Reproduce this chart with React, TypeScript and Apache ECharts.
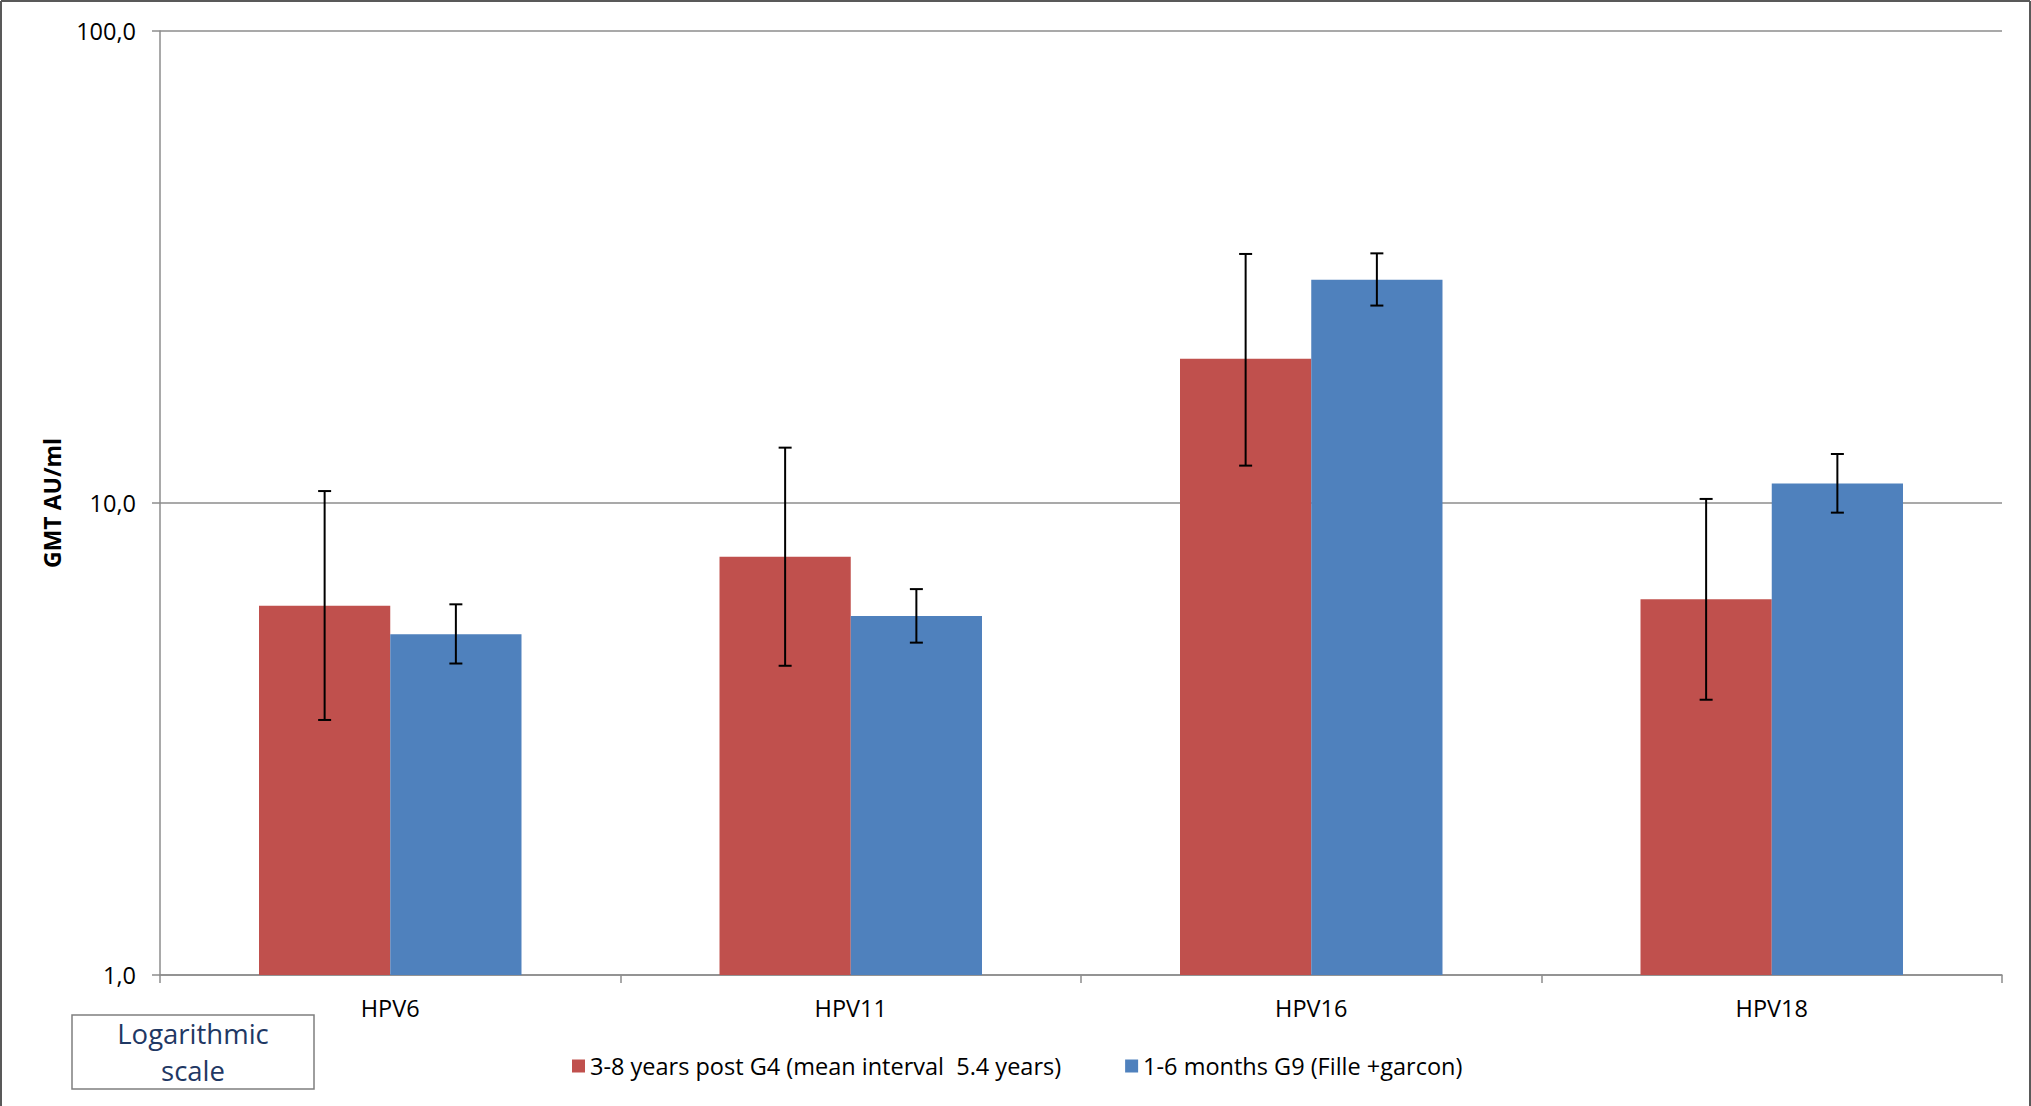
import React, { useEffect, useRef } from "react";
import * as echarts from "echarts";

// HPV types on the category axis
const categories = ["HPV6", "HPV11", "HPV16", "HPV18"];

// Series names
const seriesNames = [
  "3-8 years post G4 (mean interval  5.4 years)",
  "1-6 months G9 (Fille +garcon)",
];

// Geometric mean titres (AU/ml)
const gmtPostG4 = [6.06, 7.69, 20.2, 6.25];
const gmtG9 = [5.27, 5.76, 29.7, 11.0];

// 95% confidence limits
const lowPostG4 = [3.47, 4.52, 12.0, 3.83];
const highPostG4 = [10.6, 13.1, 33.7, 10.2];
const lowG9 = [4.57, 5.06, 26.2, 9.54];
const highG9 = [6.1, 6.57, 33.8, 12.7];

// Log-axis range
const yMin = 1;
const yMax = 100;

const RED = "#C0504D";
const BLUE = "#4F81BD";
const GRID_GREY = "#8C8C8C";
const FONT = "'Open Sans', 'Noto Sans', sans-serif";
const CATEGORY_GAP = 0.43;

function errorSeries(name: string, low: number[], high: number[], side: number) {
  return {
    type: "custom",
    name: name + " CI",
    silent: true,
    z: 10,
    data: categories.map((_, i) => [i, low[i], high[i]]),
    encode: { x: 0, y: [1, 2] },
    renderItem: (params: any, api: any) => {
      const idx = api.value(0);
      const lo = api.coord([idx, api.value(1)]);
      const hi = api.coord([idx, api.value(2)]);
      const band = api.size([1, 0])[0];
      const barW = (band * (1 - CATEGORY_GAP)) / 2;
      const x = lo[0] + (side * barW) / 2;
      const cap = 6.5;
      const style = { stroke: "#000", lineWidth: 2 };
      return {
        type: "group",
        children: [
          { type: "line", shape: { x1: x, y1: lo[1], x2: x, y2: hi[1] }, style },
          { type: "line", shape: { x1: x - cap, y1: hi[1], x2: x + cap, y2: hi[1] }, style },
          { type: "line", shape: { x1: x - cap, y1: lo[1], x2: x + cap, y2: lo[1] }, style },
        ],
      };
    },
  };
}

export default function App() {
  const ref = useRef<HTMLDivElement>(null);

  useEffect(() => {
    if (!ref.current) return;
    const chart = echarts.init(ref.current, null, { renderer: "svg" });
    chart.setOption({
      animation: false,
      backgroundColor: "#fff",
      grid: { left: 160, top: 31, right: 29, bottom: 131, containLabel: false },
      legend: {
        data: seriesNames.map((n) => ({ name: n, icon: "rect" })),
        left: 567,
        top: 1049,
        itemWidth: 13,
        itemHeight: 13,
        itemGap: 64,
        textStyle: { fontFamily: FONT, fontSize: 23.5, color: "#000" },
      },
      xAxis: {
        type: "category",
        data: categories,
        boundaryGap: true,
        axisLine: { show: true, lineStyle: { color: GRID_GREY, width: 1.5 } },
        axisTick: { show: true, length: 8, alignWithLabel: false, lineStyle: { color: GRID_GREY, width: 1.5 } },
        axisLabel: { fontFamily: FONT, fontSize: 23.5, color: "#000", margin: 21 },
      },
      yAxis: {
        type: "log",
        logBase: 10,
        min: yMin,
        max: yMax,
        name: "GMT AU/ml",
        nameLocation: "middle",
        nameRotate: 90,
        nameGap: 97,
        nameTextStyle: { fontFamily: FONT, fontSize: 23, fontWeight: "bold", color: "#000" },
        axisLine: { show: true, lineStyle: { color: GRID_GREY, width: 1.5 } },
        axisTick: { show: true, length: 8, lineStyle: { color: GRID_GREY, width: 1.5 } },
        minorTick: { show: false },
        splitLine: { show: true, lineStyle: { color: GRID_GREY, width: 1.5 } },
        axisLabel: {
          fontFamily: FONT,
          fontSize: 23.5,
          color: "#000",
          margin: 24,
          formatter: (v: number) => v.toFixed(1).replace(".", ","),
        },
      },
      series: [
        {
          type: "bar",
          name: seriesNames[0],
          data: gmtPostG4,
          itemStyle: { color: RED },
          barGap: "0%",
          barCategoryGap: CATEGORY_GAP * 100 + "%",
        },
        {
          type: "bar",
          name: seriesNames[1],
          data: gmtG9,
          itemStyle: { color: BLUE },
          barGap: "0%",
          barCategoryGap: CATEGORY_GAP * 100 + "%",
        },
        errorSeries(seriesNames[0], lowPostG4, highPostG4, -1),
        errorSeries(seriesNames[1], lowG9, highG9, 1),
      ],
      graphic: [
        // outer frame
        { type: "line", shape: { x1: 1, y1: 1, x2: 2030, y2: 1 }, style: { stroke: "#595959", lineWidth: 2 } },
        { type: "line", shape: { x1: 1, y1: 1, x2: 1, y2: 1106 }, style: { stroke: "#595959", lineWidth: 2 } },
        { type: "line", shape: { x1: 2030, y1: 1, x2: 2030, y2: 1106 }, style: { stroke: "#595959", lineWidth: 2 } },
        // scale note box
        {
          type: "rect",
          shape: { x: 72, y: 1015, width: 242, height: 74 },
          style: { fill: "#fff", stroke: "#7F7F7F", lineWidth: 1.5 },
        },
        {
          type: "text",
          x: 193,
          y: 1052,
          style: {
            text: "Logarithmic\nscale",
            fill: "#1F3864",
            fontFamily: FONT,
            fontSize: 27.5,
            lineHeight: 37,
            align: "center",
            verticalAlign: "middle",
          },
        },
      ],
    });
    return () => chart.dispose();
  }, []);

  return (
    <div
      ref={ref}
      style={{ position: "fixed", left: 0, top: 0, width: 2031, height: 1106, background: "#fff" }}
    />
  );
}
